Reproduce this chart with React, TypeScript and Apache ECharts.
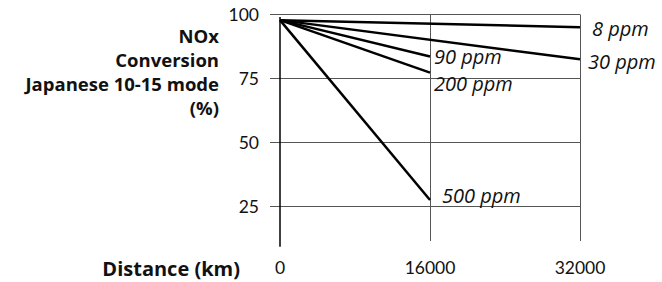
import React, { useEffect, useRef } from "react";
import * as echarts from "echarts";

const seriesNames = ["8 ppm", "30 ppm", "90 ppm", "200 ppm", "500 ppm"];
const startDistance = 0;
const startConversion = 97.8;
const endDistances = [32000, 32000, 16000, 16000, 16000];
const endConversions = [95.0, 82.5, 83.6, 77.3, 27.5];
const yTickValues = [25, 50, 75, 100];
const xLabelValues = [0, 16000, 32000];
const xGridValues = [16000, 32000];
const axisLineExtent = [99.0, 9.3];

const labelOffsets: number[][] = [
  [12, 1],
  [8, 2],
  [4, 0.5],
  [4, 10.5],
  [12, -5],
];

const TICK_FONT = "Lato, 'Open Sans', sans-serif";
const TEXT_FONT = "'Open Sans', Lato, sans-serif";

export default function App() {
  const ref = useRef<HTMLDivElement>(null);
  useEffect(() => {
    if (!ref.current) return;
    const chart = echarts.init(ref.current, undefined, { renderer: "svg" });
    const dataSeries = seriesNames.map((name, i) => ({
      name,
      type: "line",
      data: [
        [startDistance, startConversion],
        [endDistances[i], endConversions[i]],
      ],
      symbol: "none",
      silent: true,
      lineStyle: { color: "#000", width: 2.5 },
      endLabel: {
        show: true,
        formatter: name,
        distance: 0,
        offset: labelOffsets[i],
        fontStyle: "italic",
        fontSize: 20,
        fontFamily: TEXT_FONT,
        color: "#111",
      },
    }));
    chart.setOption({
      animation: false,
      backgroundColor: "#fff",
      grid: { left: 280, right: 82, top: 14.5, bottom: 41 },
      xAxis: {
        type: "value",
        min: 0,
        max: 32000,
        axisLine: { show: false },
        axisTick: { show: false, customValues: xGridValues },
        axisLabel: {
          customValues: xLabelValues,
          formatter: (v: number) => String(v),
          margin: 17,
          fontSize: 17.5,
          fontFamily: TICK_FONT,
          color: "#111",
        },
        splitLine: { show: true, lineStyle: { color: "#555", width: 1 } },
      },
      yAxis: {
        type: "value",
        min: 11.5,
        max: 100,
        axisLine: { show: false },
        axisTick: {
          show: true,
          customValues: yTickValues,
          length: 10,
          lineStyle: { color: "#555", width: 1 },
        },
        axisLabel: {
          customValues: yTickValues,
          margin: 21,
          fontSize: 17.5,
          fontFamily: TICK_FONT,
          color: "#111",
        },
        splitLine: { show: true, lineStyle: { color: "#555", width: 1 } },
      },
      graphic: [
        {
          type: "text",
          x: 219,
          y: 23.5,
          style: {
            text: "NOx\nConversion\nJapanese 10-15 mode\n(%)",
            align: "right",
            verticalAlign: "top",
            lineHeight: 24,
            font: `bold 18.5px ${TEXT_FONT}`,
            fill: "#111",
          },
        },
        {
          type: "text",
          x: 240,
          y: 268,
          style: {
            text: "Distance (km)",
            align: "right",
            verticalAlign: "middle",
            font: `bold 20px ${TEXT_FONT}`,
            fill: "#111",
          },
        },
      ],
      series: [
        {
          name: "axis",
          type: "line",
          data: [
            [0, axisLineExtent[0]],
            [0, axisLineExtent[1]],
          ],
          symbol: "none",
          silent: true,
          clip: false,
          lineStyle: { color: "#000", width: 1.5 },
        },
        ...dataSeries,
      ],
    });
    return () => chart.dispose();
  }, []);
  return (
    <div
      ref={ref}
      style={{ position: "fixed", left: 0, top: 0, width: 662, height: 282 }}
    />
  );
}
